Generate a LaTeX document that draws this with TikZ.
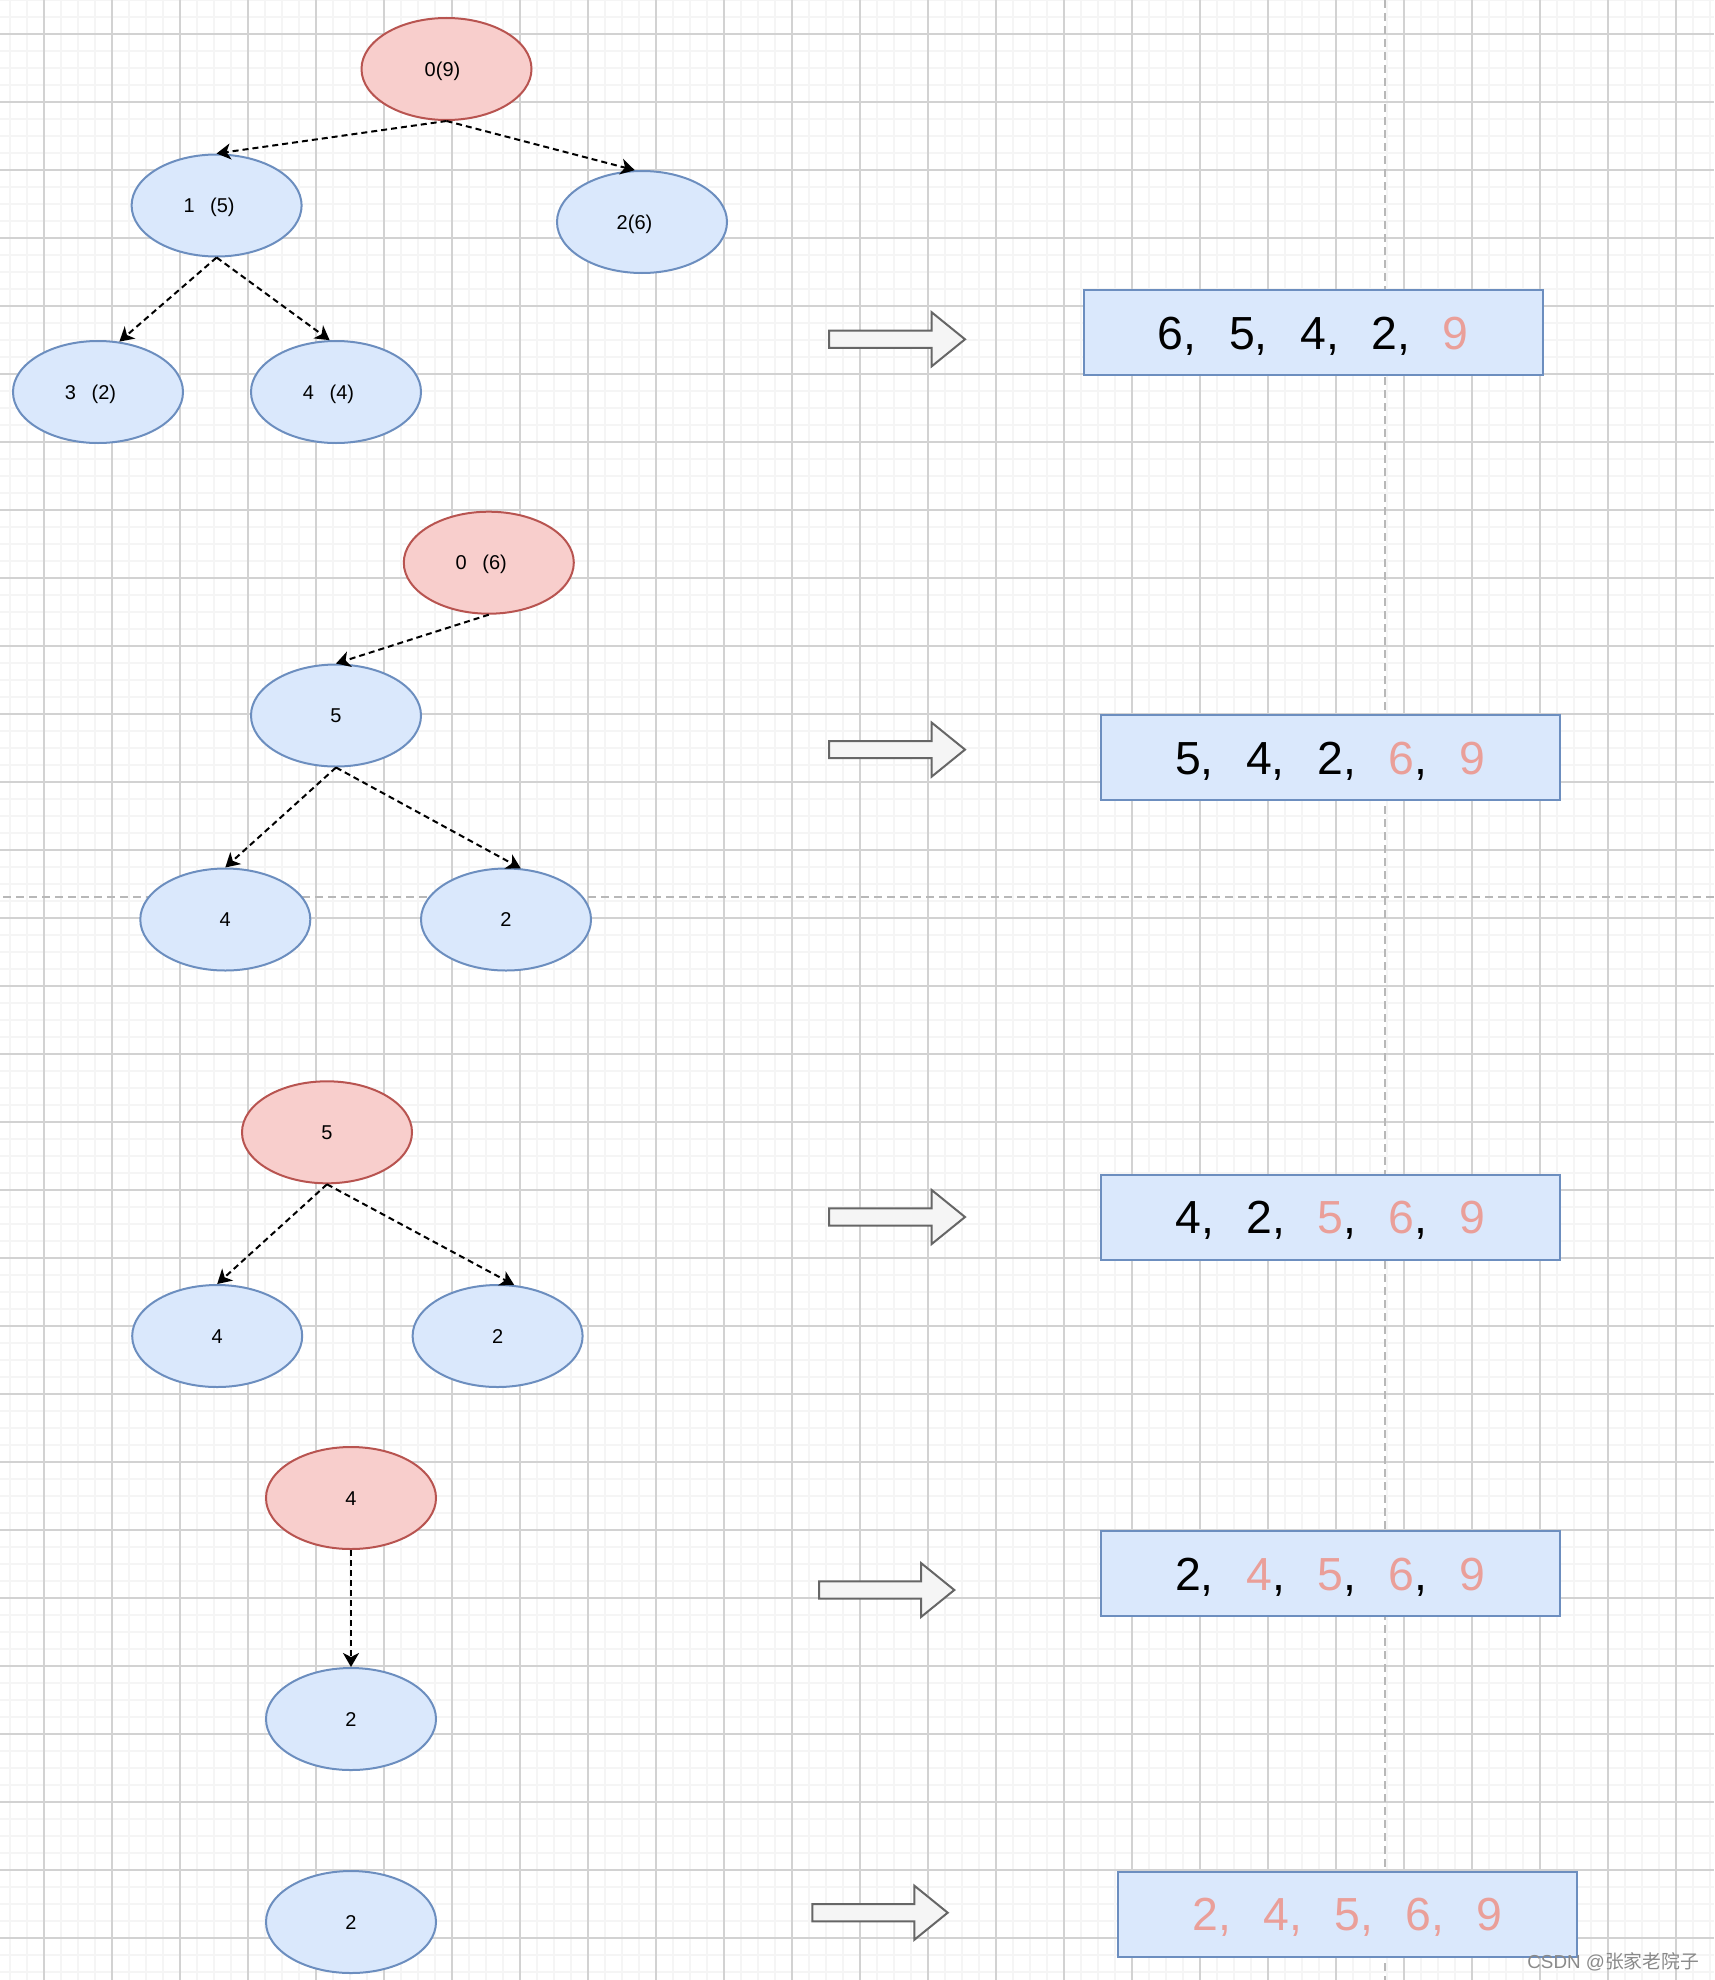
\documentclass[tikz,border=0pt]{standalone}
\usepackage{fontspec}
\setmainfont{Liberation Sans}
\newfontfamily\cjkfont{Noto Sans CJK SC}
\usetikzlibrary{shapes.geometric,arrows.meta}
\definecolor{bluefill}{HTML}{DAE8FC}
\definecolor{bluedraw}{HTML}{6C8EBF}
\definecolor{redfill}{HTML}{F8CECC}
\definecolor{reddraw}{HTML}{B85450}
\definecolor{numpink}{HTML}{EA9F99}
\definecolor{gridmajor}{HTML}{D2D2D2}
\definecolor{gridminor}{HTML}{F5F5F5}
\definecolor{guidegray}{HTML}{B8B8B8}
\definecolor{arrowdraw}{HTML}{666666}
\definecolor{arrowfill}{HTML}{F5F5F5}
\definecolor{wmgray}{HTML}{8A8A8A}
\newcommand\fwp[2]{#1\hspace{0.78em}(#2)\hspace{0.75em}\mbox{}}
\newcommand\sepc{,\hspace{0.7em}}
\newcommand\pk[1]{\textcolor{numpink}{#1}}
\newcommand\blockarrow[3]{%
  \draw[blockarr] (#1,#3-8.6) -- (#2-33.3,#3-8.6) -- (#2-33.3,#3-27) -- (#2,#3)
    -- (#2-33.3,#3+27) -- (#2-33.3,#3+8.6) -- (#1,#3+8.6) -- cycle;}
\begin{document}
\begin{tikzpicture}[x=0.5pt,y=-0.5pt,
  treenode/.style={ellipse, draw=bluedraw, fill=bluefill, line width=1pt,
    minimum width=85pt, minimum height=51pt, inner sep=0pt,
    font=\fontsize{10pt}{12pt}\selectfont, text height=7.2pt, text depth=0pt},
  rootnode/.style={treenode, draw=reddraw, fill=redfill},
  listbox/.style={rectangle, draw=bluedraw, fill=bluefill, line width=1pt,
    minimum width=229.5pt, minimum height=42.5pt, inner sep=0pt,
    font=\fontsize{23.2pt}{28pt}\selectfont, text height=16.6pt, text depth=0pt},
  link/.style={draw=black, line width=1pt, dash pattern=on 3pt off 2pt,
    -{Stealth[length=7pt,width=8pt,inset=2pt]}},
  blockarr/.style={draw=arrowdraw, fill=arrowfill, line width=1pt, line join=miter},
  minorgrid/.style={draw=gridminor, line width=0.6pt},
  majorgrid/.style={draw=gridmajor, line width=0.65pt},
  guideline/.style={draw=guidegray, line width=1pt, dash pattern=on 4pt off 2.5pt}]
\useasboundingbox (0,0) rectangle (1714,1980);
\fill[white] (0,0) rectangle (1714,1980);
% grid
\foreach \i in {0,...,100} \draw[minorgrid] ({10+17*\i},0) -- ({10+17*\i},1980);
\foreach \i in {0,...,116} \draw[minorgrid] (0,{17*\i}) -- (1714,{17*\i});
\foreach \i in {0,...,24} \draw[majorgrid] ({44+68*\i},0) -- ({44+68*\i},1980);
\foreach \i in {0,...,28} \draw[majorgrid] (0,{34+68*\i}) -- (1714,{34+68*\i});
% guides
\draw[guideline] (1385,0) -- (1385,1980);
\draw[guideline] (3,897) -- (1714,897);
% block arrows
\blockarrow{829}{965}{339.3}
\blockarrow{829}{965}{749.6}
\blockarrow{829}{965}{1217}
\blockarrow{819}{954.3}{1590}
\blockarrow{812.3}{947.7}{1912.7}
% tree 1
\node[rootnode] (r1) at (446.5,69) {0(9)\hspace{0.4em}\mbox{}};
\node[treenode] (a1) at (216.6,205.5) {\fwp{1}{5}};
\node[treenode] (b1) at (642,222) {2(6)\hspace{0.75em}\mbox{}};
\node[treenode] (c1) at (98,392) {\fwp{3}{2}};
\node[treenode] (d1) at (336,392) {\fwp{4}{4}};
\draw[link] (r1.south) -- (a1.north);
\draw[link] (r1.south) -- (b1.98);
\draw[link] (a1.south) -- (c1.67);
\draw[link] (a1.south) -- (d1.97);
% tree 2
\node[rootnode] (r2) at (488.8,562.7) {\fwp{0}{6}};
\node[treenode] (a2) at (336,715.5) {5};
\node[treenode] (b2) at (225.3,919.5) {4};
\node[treenode] (c2) at (506,919.5) {2};
\draw[link] (r2.south) -- (a2.north);
\draw[link] (a2.south) -- (b2.north);
\draw[link] (a2.south) -- (c2.74);
% tree 3
\node[rootnode] (r3) at (327,1132.3) {5};
\node[treenode] (a3) at (217.2,1336) {4};
\node[treenode] (b3) at (497.6,1336) {2};
\draw[link] (r3.south) -- (a3.north);
\draw[link] (r3.south) -- (b3.72);
% tree 4
\node[rootnode] (r4) at (351,1498) {4};
\node[treenode] (a4) at (351,1719) {2};
\draw[link] (r4.south) -- (a4.north);
% tree 5
\node[treenode] (a5) at (351,1922) {2};
% lists
\node[listbox] (l1) at (1313.2,332.8) {6\sepc 5\sepc 4\sepc 2\sepc \pk{9}};
\node[listbox] (l2) at (1330.3,757.5) {5\sepc 4\sepc 2\sepc \pk{6}\sepc \pk{9}};
\node[listbox] (l3) at (1330.5,1217) {4\sepc 2\sepc \pk{5}\sepc \pk{6}\sepc \pk{9}};
\node[listbox] (l4) at (1330.3,1573.9) {2\sepc \pk{4}\sepc \pk{5}\sepc \pk{6}\sepc \pk{9}};
\node[listbox] (l5) at (1347.5,1914.2) {\pk{2\sepc 4\sepc 5\sepc 6\sepc 9}};
% watermark
\node[anchor=base west, text=wmgray, inner sep=0pt,
  font=\fontsize{9.4pt}{11pt}\selectfont] (wm) at (1527,1968) {CSDN @{\cjkfont 张家老院子}};
\end{tikzpicture}
\end{document}
